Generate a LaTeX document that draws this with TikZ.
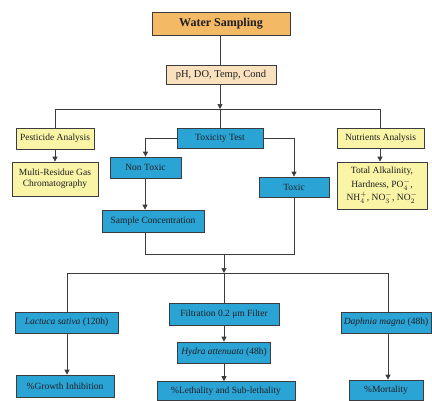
\documentclass[tikz,border=0pt]{standalone}
\usepackage{fontspec}
\setmainfont{Liberation Serif}
\usepackage{xcolor}
\usepackage{tikz}
\usetikzlibrary{arrows.meta}
\definecolor{orangeSample}{HTML}{F4B965}
\definecolor{peachLight}{HTML}{FAE1BD}
\definecolor{yellowPale}{HTML}{F9F4A6}
\definecolor{blueBox}{HTML}{2AA4D5}
\definecolor{grayLine}{HTML}{3C3C40}
\definecolor{grayText}{HTML}{1E1E22}

\begin{document}
\begin{tikzpicture}[x=1pt, y=-1pt,
        boxBase/.style={draw=grayLine, line width=0.7pt, inner sep=0pt,
            align=center, text=grayText, font=\fontsize{9.5}{11}\selectfont},
        boxOrange/.style={boxBase, fill=orangeSample, font=\bfseries\fontsize{12}{14}\selectfont},
        boxPeach/.style={boxBase, fill=peachLight, font=\fontsize{10.5}{12}\selectfont},
        boxYellow/.style={boxBase, fill=yellowPale},
        boxBlue/.style={boxBase, fill=blueBox},
        link/.style={draw=grayLine, line width=0.7pt},
        flow/.style={link, -{Triangle[length=5pt, width=5pt]}}
    ]

            \useasboundingbox (0,0) rectangle (432,400);

            \newcommand{\FlowBox}[7]{%
                \node[#2, minimum width=#5pt, minimum height=#6pt] (#1) at (#3,#4) {#7};
            }

            \FlowBox{water}{boxOrange}{221}{24}{138}{23}{Water Sampling}
            \FlowBox{params}{boxPeach}{221}{75}{110}{19}{pH, DO, Temp, Cond}

            \FlowBox{pest}{boxYellow}{55}{138.5}{78}{21}{Pesticide Analysis}
            \FlowBox{gas}{boxYellow}{55}{179}{86}{34}{Multi-Residue Gas\\Chromatography}
            \FlowBox{tox}{boxBlue}{220}{138}{86}{20}{Toxicity Test}
            \FlowBox{nutr}{boxYellow}{380.5}{138}{87}{20}{Nutrients Analysis}
            \FlowBox{alk}{boxYellow, font=\fontsize{9.5}{13.5}\selectfont}{382}{185.5}{90}{47}{Total Alkalinity,\\Hardness, PO$_4^{-}$,\\NH$_4^{+}$, NO$_3^{-}$, NO$_2^{-}$}

            \FlowBox{nontox}{boxBlue}{145.5}{167.5}{71}{21}{Non Toxic}
            \FlowBox{toxic}{boxBlue}{294}{187}{70}{20}{Toxic}
            \FlowBox{conc}{boxBlue}{153}{221}{102}{22}{Sample Concentration}

            \FlowBox{lact}{boxBlue}{66.5}{322.5}{103}{21}{\textit{Lactuca sativa} (120h)}
            \FlowBox{growth}{boxBlue}{65}{386}{98}{22}{\%Growth Inhibition}
            \FlowBox{filt}{boxBlue}{224}{314}{110}{22}{Filtration 0.2 μm Filter}
            \FlowBox{hydra}{boxBlue}{224}{352.5}{93}{21}{\textit{Hydra attenuata} (48h)}
            \FlowBox{leth}{boxBlue}{226}{391}{138}{19}{\%Lethality and Sub-lethality}
            \FlowBox{daph}{boxBlue}{386}{322.5}{90}{21}{\textit{Daphnia magna} (48h)}
            \FlowBox{mort}{boxBlue}{386}{390}{74}{20}{\%Mortality}

            % branch lines
            \coordinate (splitL) at (55,109);
            \coordinate (splitM) at (220,109);
            \coordinate (splitR) at (380,109);
            \coordinate (joinL) at (145,254);
            \coordinate (joinM) at (224,254);
            \coordinate (joinR) at (294,254);
            \coordinate (forkL) at (67,273);
            \coordinate (forkM) at (224,273);
            \coordinate (forkR) at (388,273);

            \draw[link] (splitM |- water.south) -- (splitM |- params.north);
            \draw[flow] (splitM |- params.south) -- (splitM);
            \draw[link] (splitL) -- (splitR);
            \draw[link] (splitL) -- (pest);
            \draw[link] (splitM) -- (tox);
            \draw[link] (splitR) -- (splitR |- nutr.north);

            \draw[flow] (pest) -- (gas);
            \draw[flow] (splitR |- nutr.south) -- (splitR |- alk.north);
            \draw[flow] (tox.west) -| (nontox.north);
            \draw[flow] (tox.east) -| (toxic.north);
            \draw[flow] (joinL |- nontox.south) -- (joinL |- conc.north);

            \draw[link] (joinL |- conc.south) -- (joinL) -- (joinR) -- (toxic.south);
            \draw[flow] (joinM) -- (forkM);
            \draw[link] (forkL) -- (forkR);
            \draw[link] (forkL) -- (forkL |- lact.north);
            \draw[link] (forkM) -- (filt);
            \draw[link] (forkR) -- (forkR |- daph.north);

            \draw[flow] (forkL |- lact.south) -- (forkL |- growth.north);
            \draw[flow] (filt) -- (hydra);
            \draw[flow] (hydra) -- (forkM |- leth.north);
            \draw[flow] (forkR |- daph.south) -- (forkR |- mort.north);

        \end{tikzpicture}
\end{document}
